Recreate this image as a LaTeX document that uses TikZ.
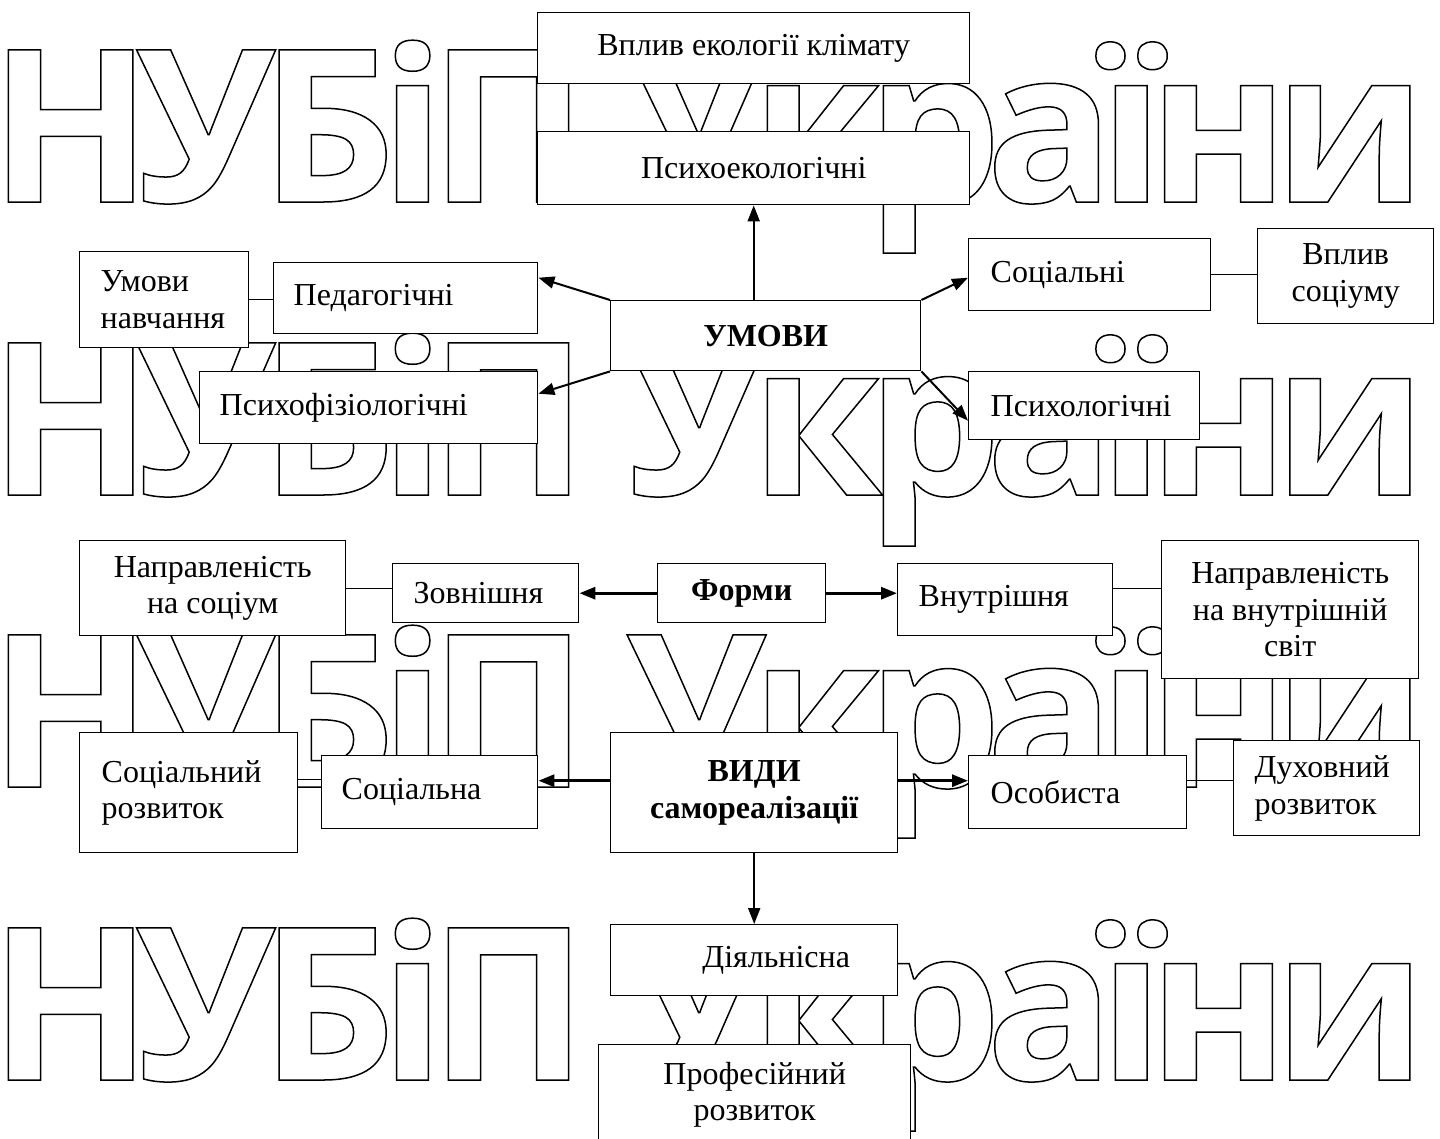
\documentclass[tikz,border=0pt]{standalone}
\usepackage{fontspec}
\setmainfont{Liberation Serif}
\newfontfamily\wmfont[LetterSpace=-7.4]{Open Sans}
\usetikzlibrary{arrows.meta}
\newcommand{\outlineon}{\special{pdf:literal direct 1 Tr 1.5 w}}
\newcommand{\outlineoff}{\special{pdf:literal direct 0 Tr}}
\tikzset{
  box/.style={draw, fill=white, line width=1.4pt, inner sep=0pt, anchor=north west,
    font=\fontsize{32}{36.5}\selectfont},
  lbox/.style={box, align=left},
  cbox/.style={box, align=center},
  bbox/.style={box, align=center, font=\fontsize{32}{36.5}\selectfont\bfseries},
  wm/.style={anchor=base west, inner sep=0pt, font=\fontsize{213}{213}\selectfont\wmfont\bfseries},
  link/.style={line width=1.4pt},
  arr/.style={line width=2pt, -{Triangle[length=16pt,width=12pt]}},
  barr/.style={line width=3pt, -{Triangle[length=16pt,width=12pt]}},
}
\begin{document}
\begin{tikzpicture}[x=1pt,y=-1pt]
\useasboundingbox (0,0) rectangle (1440,1138);
% watermark
\node[wm] (wm1) at (-11,202) {\outlineon НУБіП України\outlineoff};
\node[wm] (wm2) at (-11,495) {\outlineon НУБіП України\outlineoff};
\node[wm] (wm3) at (-11,787) {\outlineon НУБіП України\outlineoff};
\node[wm] (wm4) at (-11,1080) {\outlineon НУБіП України\outlineoff};
% boxes
\node[cbox, minimum width=432, minimum height=71] (vplyv) at (537,12) {Вплив екології клімату};
\node[cbox, minimum width=432, minimum height=73] (psyeco) at (537,131) {Психоекологічні};
\node[lbox, minimum height=96, text width=127, inner xsep=21] (umnav) at (79,251) {Умови\\навчання};
\node[lbox, minimum height=71, text width=224, inner xsep=20] (ped) at (273,262) {Педагогічні};
\node[bbox, minimum width=310, minimum height=70] (umovy) at (610,300) {УМОВИ};
\node[lbox, minimum height=72, text width=198, inner xsep=22] (soc) at (968,238) {Соціальні};
\node[cbox, minimum width=176, minimum height=95] (vsoc) at (1257,228) {Вплив\\соціуму};
\node[lbox, minimum height=72, text width=298, inner xsep=20] (psyphys) at (199,371) {Психофізіологічні};
\node[lbox, minimum height=68, text width=187, inner xsep=22] (psyhol) at (968,371) {Психологічні};
\node[cbox, minimum width=266, minimum height=95] (napsoc) at (79,540) {Направленість\\на соціум};
\node[lbox, minimum height=59, text width=144, inner xsep=21] (zovn) at (392,563) {Зовнішня};
\node[bbox, minimum width=168, minimum height=59] (formy) at (657,563) {Форми};
\node[lbox, minimum height=72, text width=173, inner xsep=21] (vnutr) at (897,563) {Внутрішня};
\node[cbox, minimum width=257, minimum height=138] (napvn) at (1161,540) {Направленість\\на внутрішній\\світ};
\node[lbox, minimum height=120, text width=174, inner xsep=22] (socroz) at (79,732) {Соціальний\\розвиток};
\node[lbox, minimum height=73, text width=176, inner xsep=20] (socna) at (321,755) {Соціальна};
\node[bbox, minimum width=287, minimum height=120] (vydy) at (610,732) {ВИДИ\\самореалізації};
\node[lbox, minimum height=73, text width=174, inner xsep=22] (osob) at (968,755) {Особиста};
\node[lbox, minimum height=95, text width=144, inner xsep=21] (dukh) at (1233,740) {Духовний\\розвиток};
\node[cbox, minimum width=287, minimum height=71] (diyal) at (610,924) {\hspace*{44pt}Діяльнісна};
\node[cbox, minimum width=312, minimum height=100] (prof) at (598,1044) {Професійний\\розвиток};
% connectors
\draw[arr] (umovy.north -| psyeco.south) -- (psyeco.south);
\draw[arr] (umovy.north west) -- ([yshift=20.5pt]ped.east);
\draw[arr] (umovy.south west) -- ([yshift=14pt]psyphys.east);
\draw[arr] (umovy.north east) -- ([yshift=-3pt]soc.west);
\draw[arr] (umovy.south east) -- ([yshift=-15pt]psyhol.west);
\draw[link] (umnav.east) -- (ped.west |- umnav.east);
\draw[link] (soc.east) -- (vsoc.west |- soc.east);
\draw[barr] (formy.west) -- (zovn.east);
\draw[barr] (formy.east) -- (vnutr.west |- formy.east);
\draw[link] (napsoc.east) -- (zovn.west |- napsoc.east);
\draw[link] ([yshift=11pt]vnutr.east) -- ([yshift=11pt]vnutr.east -| napvn.west);
\draw[barr] ([yshift=12pt]vydy.west) -- ([yshift=12pt]vydy.west -| socna.east);
\draw[barr] ([yshift=12pt]vydy.east) -- ([yshift=12pt]vydy.east -| osob.west);
\draw[link] ([yshift=13pt]socroz.east) -- ([yshift=13pt]socroz.east -| socna.west);
\draw[link] ([yshift=12pt]osob.east) -- ([yshift=12pt]osob.east -| dukh.west);
\draw[arr] (vydy.south) -- (diyal.north);
\end{tikzpicture}
\end{document}
